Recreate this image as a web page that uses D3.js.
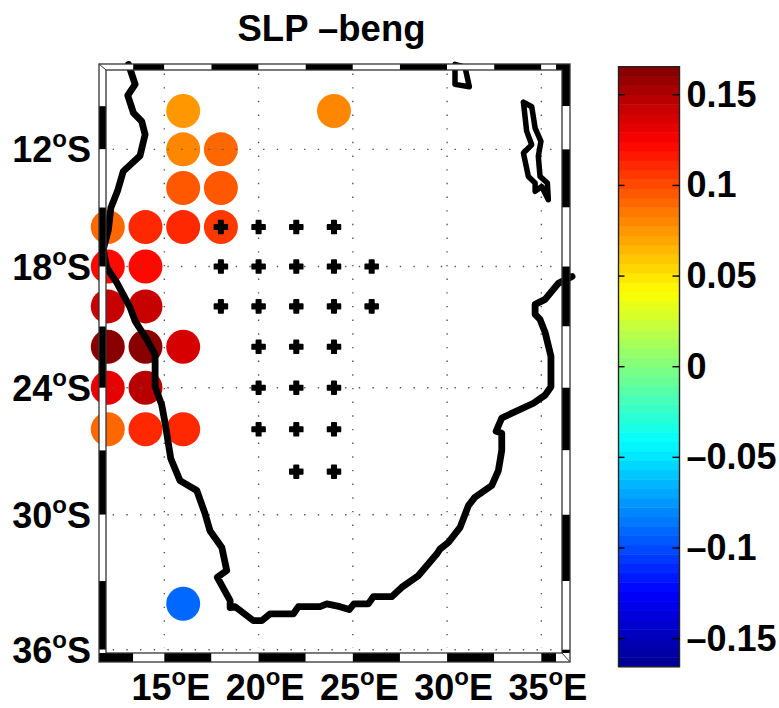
<!DOCTYPE html>
<html>
<head>
<meta charset="utf-8">
<title>SLP -beng</title>
<script src="https://d3js.org/d3.v7.min.js"></script>
<style>
    body { margin: 0; background: #fff; }
    text { font-family: "Liberation Sans", sans-serif; font-weight: bold; fill: #000; }
</style>
</head>
<body>
<div id="chart"></div>
<script>
// Significant grid cells: [lon, lat south, SLP value]
const dotValues = [
    [16, 10, 0.077], [24, 10, 0.080],
    [16, 12, 0.080], [18, 12, 0.090],
    [16, 14, 0.097], [18, 14, 0.096],
    [12, 16, 0.091], [14, 16, 0.111], [16, 16, 0.111], [18, 16, 0.107],
    [12, 18, 0.124], [14, 18, 0.121],
    [12, 20, 0.140], [14, 20, 0.140],
    [12, 22, 0.164], [14, 22, 0.163], [16, 22, 0.137],
    [12, 24, 0.133], [14, 24, 0.148],
    [12, 26, 0.091], [14, 26, 0.110], [16, 26, 0.112],
    [16, 34, -0.088]
];

// Cells marked with a plus: [lat south, lons]
const plusRows = [
    [16, [18, 20, 22, 24]],
    [18, [18, 20, 22, 24, 26]],
    [20, [18, 20, 22, 24, 26]],
    [22, [20, 22, 24]],
    [24, [20, 22, 24]],
    [26, [20, 22, 24]],
    [28, [22, 24]]
];

// Coastline and lakes, [lon, lat south]
const coastLine = [
    [13.10, 7.56], [13.45, 8.61], [13.06, 9.19], [13.36, 10.10], [13.80, 10.54], [13.98, 11.23],
    [13.71, 12.33], [12.82, 13.14], [12.51, 14.17], [12.16, 15.03], [12.03, 16.14], [11.76, 17.14],
    [11.94, 18.05], [12.47, 18.80], [13.18, 20.05], [13.45, 20.73], [14.07, 21.64], [14.51, 22.39],
    [14.51, 23.95], [14.86, 24.83], [15.04, 25.70], [15.34, 27.38], [15.83, 28.42], [16.72, 28.88],
    [17.16, 29.95], [17.42, 30.73], [18.05, 31.49], [18.31, 32.53], [17.81, 32.83], [18.49, 33.87],
    [18.49, 34.17], [18.75, 34.13], [19.72, 34.74], [20.17, 34.74], [20.61, 34.45], [21.84, 34.45],
    [22.11, 34.13], [23.26, 34.13], [23.62, 34.01], [24.32, 34.13], [24.81, 34.26], [25.06, 34.01],
    [25.82, 34.01], [26.09, 33.69], [27.06, 33.69], [27.59, 33.28], [28.47, 32.76], [29.45, 31.79],
    [29.63, 31.56], [30.07, 31.26], [30.69, 30.58], [31.13, 29.58], [31.48, 29.19], [32.37, 28.65],
    [32.72, 27.95], [32.90, 27.00], [32.90, 26.18], [32.60, 26.09], [32.90, 25.46], [34.58, 24.75],
    [35.20, 24.36], [35.51, 23.95], [35.51, 22.47], [35.20, 21.29], [34.93, 20.65], [34.67, 20.40],
    [34.67, 19.90], [35.20, 19.65], [35.90, 18.85], [36.63, 18.50]
];
const lakeMalawi = [
    [34.05, 9.54], [34.49, 9.78], [34.67, 10.89], [34.98, 11.58], [34.84, 12.36], [34.93, 13.40],
    [35.32, 13.74], [35.37, 14.60], [35.02, 13.92], [34.67, 14.17], [34.67, 13.74], [34.31, 13.40],
    [34.05, 12.19], [34.49, 11.76], [34.22, 11.05], [34.05, 9.54]
];
const lakeTanganyika = [
    [30.42, 7.56], [30.42, 8.61], [31.18, 8.73], [30.95, 7.70], [30.42, 7.56]
];

const lonTicks = [15, 20, 25, 30, 35];
const latTicks = [12, 18, 24, 30, 36];
const frameLons = [13.35, 15, 17.5, 20, 22.5, 25, 27.5, 30, 32.5, 35, 35.78];
const frameLats = [9.75, 12, 15, 18, 21, 24, 27, 30, 33, 36];
const colorTicks = [0.15, 0.1, 0.05, 0, -0.05, -0.1, -0.15];
const colorTickLabels = ['0.15', '0.1', '0.05', '0', '\u20130.05', '\u20130.1', '\u20130.15'];
const jetPositions = [0, 0.125, 0.375, 0.625, 0.875, 1];
const jetColors = ['#00008f', '#0000ff', '#00ffff', '#ffff00', '#ff0000', '#800000'];
const colorLevels = 64;
const colorMax = 0.1655;

const width = 779, height = 708;
const outer = { left: 99, right: 570, top: 64, bottom: 662 };
const inner = { left: 106, right: 562, top: 70, bottom: 653 };
const bar = { left: 618.5, right: 679.5, top: 66.7, bottom: 666.7 };

const svg = d3.select('#chart').append('svg')
    .attr('width', width)
    .attr('height', height)
    .style('display', 'block');

// Mercator map, latitudes are given as degrees south
const projection = d3.geoMercator().scale(1080).translate([-118.4, -78.5]);
const px = d => projection([d, 0])[0];
const py = d => projection([15, -d])[1];
const line = d3.line().x(d => px(d[0])).y(d => py(d[1]));

// jet colormap, 64 flat levels like the colorbar
const jet = d3.scaleLinear().domain(jetPositions).range(jetColors).interpolate(d3.interpolateRgb);
const toUnit = d3.scaleLinear().domain([-colorMax, colorMax]).range([0, 1]).clamp(true);
const levelColor = v => {
    const level = Math.min(colorLevels - 1, Math.floor(toUnit(v) * colorLevels));
    return jet((level + 0.5) / colorLevels);
};

// 1. Dots
svg.append('g').selectAll('circle')
    .data(dotValues)
    .enter().append('circle')
    .attr('cx', d => px(d[0]))
    .attr('cy', d => py(d[1]))
    .attr('r', 17)
    .attr('fill', d => levelColor(d[2]));

// 2. Dotted grid, on top of the dots
const grid = svg.append('g')
    .attr('stroke', '#555')
    .attr('stroke-width', 1.4)
    .attr('stroke-dasharray', '1.4 12.27');
grid.selectAll('line.lon').data(lonTicks).enter().append('line')
    .attr('x1', d => px(d)).attr('x2', d => px(d))
    .attr('y1', 73.5).attr('y2', 648);
grid.selectAll('line.lat').data(latTicks).enter().append('line')
    .attr('y1', d => py(d)).attr('y2', d => py(d))
    .attr('x1', 112.7).attr('x2', 553);

// 3. Plus markers, stroked so the arms get thick and slightly round
const plusData = plusRows.flatMap(r => r[1].map(lon => [lon, r[0]]));
svg.append('g').selectAll('path')
    .data(plusData)
    .enter().append('path')
    .attr('d', d3.symbol().type(d3.symbolCross).size(90))
    .attr('transform', d => `translate(${px(d[0])},${py(d[1])})`)
    .attr('fill', '#000')
    .attr('stroke', '#000')
    .attr('stroke-width', 1.8)
    .attr('stroke-linejoin', 'round');

// 4. Coast and lakes
svg.append('g').selectAll('path')
    .data([coastLine, lakeMalawi, lakeTanganyika])
    .enter().append('path')
    .attr('d', line)
    .attr('fill', 'none')
    .attr('stroke', '#000')
    .attr('stroke-width', (d, i) => i === 0 ? 6.8 : 5.5)
    .attr('stroke-linejoin', 'round')
    .attr('stroke-linecap', 'round');

// 5. Fancy frame, alternating black and white pieces
const xEdges = [outer.left].concat(frameLons.map(px), [outer.right]);
const yEdges = [outer.top].concat(frameLats.map(py), [outer.bottom]);
const frame = svg.append('g');

function stripX(y0, y1, firstBlack) {
    frame.append('g').selectAll('rect')
        .data(d3.pairs(xEdges))
        .enter().append('rect')
        .attr('x', d => d[0]).attr('width', d => d[1] - d[0])
        .attr('y', y0).attr('height', y1 - y0)
        .attr('fill', (d, i) => (i % 2 === 0) === firstBlack ? '#000' : '#fff');
}
function stripY(x0, x1, firstBlack) {
    frame.append('g').selectAll('rect')
        .data(d3.pairs(yEdges))
        .enter().append('rect')
        .attr('y', d => d[0]).attr('height', d => d[1] - d[0])
        .attr('x', x0).attr('width', x1 - x0)
        .attr('fill', (d, i) => (i % 2 === 0) === firstBlack ? '#000' : '#fff');
}
stripY(outer.left, inner.left, false);
stripY(inner.right, outer.right, true);
stripX(outer.top, inner.top, false);
stripX(inner.bottom, outer.bottom, true);

[outer, inner].forEach(b => {
    frame.append('rect')
        .attr('x', b.left).attr('y', b.top)
        .attr('width', b.right - b.left).attr('height', b.bottom - b.top)
        .attr('fill', 'none').attr('stroke', '#333').attr('stroke-width', 1.3);
});
frame.append('line').attr('x1', outer.left).attr('y1', outer.top).attr('x2', inner.left).attr('y2', inner.top).attr('stroke', '#333');
frame.append('line').attr('x1', inner.right).attr('y1', inner.bottom).attr('x2', outer.right).attr('y2', outer.bottom).attr('stroke', '#333');

// 6. Title and map tick labels
const fontSize = 36, supSize = 24, supRise = 15;

svg.append('text')
    .attr('x', 331.5).attr('y', 41)
    .attr('text-anchor', 'middle')
    .attr('font-size', 36.5)
    .text('SLP \u2013beng');

function degreeLabel(sel, suffix) {
    sel.append('tspan').text(d => d);
    sel.append('tspan').attr('font-size', supSize).attr('dy', -supRise).text('o');
    sel.append('tspan').attr('dy', supRise).text(suffix);
}
svg.append('g').selectAll('text')
    .data(lonTicks)
    .enter().append('text')
    .attr('x', d => px(d) + 6.5)
    .attr('y', 700)
    .attr('text-anchor', 'middle')
    .attr('font-size', fontSize)
    .call(degreeLabel, 'E');
svg.append('g').selectAll('text')
    .data(latTicks)
    .enter().append('text')
    .attr('x', 91)
    .attr('y', d => py(d) + 13)
    .attr('text-anchor', 'end')
    .attr('font-size', fontSize)
    .call(degreeLabel, 'S');

// 7. Colorbar
const barScale = d3.scaleLinear().domain([-colorMax, colorMax]).range([bar.bottom, bar.top]);
const levelStep = 2 * colorMax / colorLevels;
const colorbar = svg.append('g');
colorbar.selectAll('rect')
    .data(d3.range(colorLevels))
    .enter().append('rect')
    .attr('x', bar.left)
    .attr('width', bar.right - bar.left)
    .attr('y', i => barScale(-colorMax + (i + 1) * levelStep))
    .attr('height', (bar.bottom - bar.top) / colorLevels + 0.5)
    .attr('fill', i => jet((i + 0.5) / colorLevels));
colorbar.append('rect')
    .attr('x', bar.left).attr('y', bar.top)
    .attr('width', bar.right - bar.left).attr('height', bar.bottom - bar.top)
    .attr('fill', 'none').attr('stroke', '#222').attr('stroke-width', 1.4);
colorbar.selectAll('line.left').data(colorTicks).enter().append('line')
    .attr('x1', bar.left).attr('x2', bar.left + 6)
    .attr('y1', d => barScale(d)).attr('y2', d => barScale(d))
    .attr('stroke', '#000').attr('stroke-width', 1.4);
colorbar.selectAll('line.right').data(colorTicks).enter().append('line')
    .attr('x1', bar.right - 7).attr('x2', bar.right)
    .attr('y1', d => barScale(d)).attr('y2', d => barScale(d))
    .attr('stroke', '#000').attr('stroke-width', 1.4);
colorbar.selectAll('text').data(colorTicks).enter().append('text')
    .attr('x', 686.5)
    .attr('y', d => barScale(d) + 12)
    .attr('font-size', fontSize)
    .text((d, i) => colorTickLabels[i]);
</script>
</body>
</html>
